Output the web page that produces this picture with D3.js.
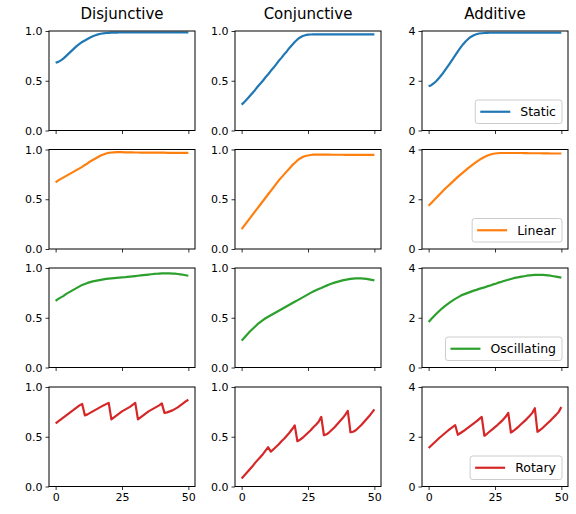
<!DOCTYPE html>
<html>
<head>
<meta charset="utf-8">
<script src="https://cdn.jsdelivr.net/npm/d3@7"></script>
<style>
  body { margin: 0; background: #fff; }
  text { font-family: "DejaVu Sans", sans-serif; fill: #000; }
</style>
</head>
<body>
<script>
// step index shared by every series
var steps = [0,1,2,3,4,5,6,7,8,9,10,11,12,13,14,15,16,17,18,19,20,21,22,23,24,25,26,27,28,29,30,31,32,33,34,35,36,37,38,39,40,41,42,43,44,45,46,47,48,49,50];

var columns = ["Disjunctive", "Conjunctive", "Additive"];
var modes = ["Static", "Linear", "Oscillating", "Rotary"];
var colors = ["#1f77b4", "#ff7f0e", "#2ca02c", "#d62728"];
var yMax = [1, 1, 4];
var yTicks = [[0, 0.5, 1], [0, 0.5, 1], [0, 2, 4]];
var xTicks = [0, 25, 50];

// Static
var staticDisj = [0.68,0.69,0.705,0.725,0.75,0.775,0.80,0.825,0.85,0.87,0.89,0.905,0.92,0.935,0.948,0.958,0.966,0.972,0.977,0.980,0.982,0.983,0.984,0.984,0.985,0.985,0.985,0.985,0.985,0.985,0.985,0.985,0.985,0.985,0.985,0.985,0.985,0.985,0.985,0.985,0.985,0.985,0.985,0.985,0.985,0.985,0.985,0.985,0.985,0.985,0.985];
var staticConj = [0.26,0.285,0.315,0.345,0.375,0.405,0.44,0.47,0.50,0.535,0.565,0.60,0.63,0.665,0.70,0.73,0.765,0.795,0.83,0.86,0.89,0.915,0.935,0.95,0.958,0.963,0.965,0.966,0.966,0.966,0.966,0.966,0.966,0.966,0.966,0.966,0.966,0.966,0.966,0.966,0.966,0.966,0.966,0.966,0.966,0.966,0.966,0.966,0.966,0.966,0.966];
var staticAdd = [1.78,1.82,1.90,2.0,2.12,2.25,2.4,2.55,2.7,2.86,3.02,3.18,3.33,3.47,3.59,3.69,3.77,3.83,3.87,3.90,3.91,3.92,3.925,3.93,3.93,3.93,3.93,3.93,3.93,3.93,3.93,3.93,3.93,3.93,3.93,3.93,3.93,3.93,3.93,3.93,3.93,3.93,3.93,3.93,3.93,3.93,3.93,3.93,3.93,3.93,3.93];

// Linear
var linearDisj = [0.67,0.69,0.705,0.72,0.735,0.75,0.765,0.78,0.795,0.81,0.825,0.845,0.86,0.88,0.895,0.91,0.925,0.94,0.95,0.96,0.967,0.97,0.972,0.973,0.973,0.973,0.972,0.972,0.972,0.971,0.970,0.970,0.969,0.969,0.968,0.968,0.968,0.968,0.968,0.968,0.968,0.968,0.967,0.967,0.967,0.967,0.966,0.966,0.966,0.966,0.966];
var linearConj = [0.20,0.235,0.27,0.305,0.34,0.375,0.41,0.445,0.48,0.515,0.55,0.585,0.62,0.655,0.69,0.72,0.75,0.78,0.81,0.84,0.865,0.89,0.91,0.925,0.935,0.94,0.945,0.948,0.948,0.948,0.948,0.948,0.948,0.948,0.947,0.947,0.947,0.947,0.947,0.946,0.946,0.946,0.946,0.946,0.945,0.945,0.945,0.945,0.945,0.945,0.945];
var linearAdd = [1.74,1.85,1.96,2.07,2.18,2.29,2.4,2.5,2.6,2.7,2.8,2.9,2.99,3.08,3.17,3.26,3.34,3.42,3.5,3.57,3.64,3.7,3.75,3.79,3.82,3.84,3.85,3.86,3.86,3.86,3.86,3.86,3.86,3.86,3.86,3.86,3.855,3.855,3.85,3.85,3.85,3.85,3.85,3.845,3.845,3.845,3.84,3.84,3.84,3.84,3.84];

// Oscillating
var oscDisj = [0.67,0.69,0.705,0.72,0.74,0.755,0.77,0.785,0.80,0.815,0.83,0.84,0.85,0.858,0.865,0.87,0.875,0.88,0.885,0.89,0.893,0.896,0.899,0.901,0.903,0.905,0.907,0.91,0.913,0.916,0.919,0.922,0.925,0.928,0.931,0.934,0.937,0.94,0.942,0.944,0.945,0.946,0.946,0.945,0.944,0.943,0.94,0.936,0.932,0.927,0.922];
var oscConj = [0.27,0.30,0.33,0.36,0.385,0.41,0.435,0.455,0.475,0.495,0.51,0.525,0.54,0.555,0.57,0.585,0.60,0.615,0.63,0.645,0.66,0.675,0.69,0.705,0.72,0.735,0.75,0.763,0.776,0.789,0.80,0.812,0.823,0.834,0.844,0.853,0.861,0.868,0.875,0.881,0.886,0.89,0.893,0.895,0.896,0.895,0.893,0.89,0.886,0.881,0.876];
var oscAdd = [1.83,1.95,2.06,2.17,2.27,2.37,2.46,2.54,2.62,2.69,2.76,2.82,2.88,2.93,2.97,3.01,3.05,3.09,3.12,3.16,3.19,3.22,3.26,3.29,3.33,3.36,3.4,3.43,3.47,3.5,3.53,3.56,3.59,3.61,3.63,3.65,3.67,3.69,3.70,3.71,3.72,3.72,3.72,3.72,3.71,3.70,3.69,3.67,3.65,3.63,3.61];

// Rotary
var rotDisj = [0.635,0.655,0.675,0.695,0.715,0.735,0.755,0.775,0.795,0.815,0.83,0.715,0.725,0.74,0.755,0.77,0.785,0.80,0.815,0.828,0.84,0.675,0.695,0.715,0.735,0.755,0.77,0.785,0.80,0.82,0.84,0.675,0.695,0.715,0.735,0.755,0.77,0.785,0.80,0.815,0.835,0.74,0.745,0.755,0.765,0.78,0.795,0.815,0.835,0.855,0.872];
var rotConj = [0.08,0.11,0.14,0.17,0.20,0.235,0.265,0.295,0.325,0.36,0.395,0.35,0.375,0.40,0.425,0.455,0.48,0.51,0.54,0.575,0.615,0.455,0.47,0.49,0.515,0.54,0.565,0.595,0.62,0.65,0.70,0.515,0.525,0.545,0.57,0.595,0.625,0.655,0.685,0.72,0.76,0.545,0.55,0.565,0.59,0.615,0.645,0.675,0.705,0.74,0.775];
var rotAdd = [1.55,1.65,1.75,1.85,1.95,2.04,2.13,2.22,2.31,2.39,2.47,2.08,2.15,2.22,2.3,2.38,2.46,2.54,2.62,2.71,2.8,2.04,2.12,2.21,2.3,2.39,2.48,2.58,2.68,2.8,2.96,2.17,2.24,2.33,2.42,2.52,2.62,2.72,2.83,2.95,3.15,2.2,2.27,2.36,2.46,2.56,2.66,2.77,2.88,3.0,3.2];

var grid = [
  [staticDisj, staticConj, staticAdd],
  [linearDisj, linearConj, linearAdd],
  [oscDisj, oscConj, oscAdd],
  [rotDisj, rotConj, rotAdd]
];

var width = 576, height = 514;
var colLeft = [49, 235, 422], plotW = 146;
var rowTop = [31, 149.5, 268, 387], plotH = 99.5;

var svg = d3.select("body").append("svg")
    .attr("width", width)
    .attr("height", height);

// column titles
columns.forEach(function(c, j) {
  svg.append("text")
      .attr("x", colLeft[j] + plotW / 2)
      .attr("y", 19)
      .attr("text-anchor", "middle")
      .style("font-size", "15px")
      .text(c);
});

var x = d3.scaleLinear().domain([-2.5, 52.5]).range([0, plotW]);

grid.forEach(function(row, i) {
  row.forEach(function(vals, j) {
    var g = svg.append("g")
        .attr("transform", "translate(" + colLeft[j] + "," + rowTop[i] + ")");

    var y = d3.scaleLinear().domain([0, yMax[j]]).range([plotH, 0]);

    var line = d3.line()
        .x(function(d, k) { return x(steps[k]); })
        .y(function(d) { return y(d); });

    g.append("path")
        .datum(vals)
        .attr("d", line)
        .attr("fill", "none")
        .attr("stroke", colors[i])
        .attr("stroke-width", 2.2)
        .attr("stroke-linejoin", "round");

    // y axis
    var yAxis = g.append("g")
        .call(d3.axisLeft(y).tickValues(yTicks[j]).tickSize(3.5).tickPadding(3)
          .tickFormat(j < 2 ? d3.format(".1f") : d3.format("d")));
    yAxis.select(".domain").remove();

    // x axis, labels only on the last row
    var xAxis = g.append("g")
        .attr("transform", "translate(0," + plotH + ")")
        .call(d3.axisBottom(x).tickValues(xTicks).tickSize(3.5).tickPadding(3.5)
          .tickFormat(i == grid.length - 1 ? d3.format("d") : ""));
    xAxis.select(".domain").remove();

    svg.selectAll(".tick text").style("font-size", "11px").attr("fill", "#000");
    svg.selectAll(".tick line").attr("stroke", "#000").attr("stroke-width", 0.8);

    // frame
    g.append("rect")
        .attr("width", plotW)
        .attr("height", plotH)
        .attr("fill", "none")
        .attr("stroke", "#000")
        .attr("stroke-width", 1);

    // legend in the last column
    if (j == 2) {
      var leg = g.append("g");
      var txt = leg.append("text")
          .attr("x", 45)
          .attr("y", 0)
          .style("font-size", "12.5px")
          .text(modes[i]);
      var tw = txt.node().getComputedTextLength();
      var boxW = 45 + tw + 6, boxH = 23.5;
      var bx = plotW - 6 - boxW, by = plotH - 7 - boxH;
      leg.attr("transform", "translate(" + bx + "," + by + ")");
      leg.insert("rect", "text")
          .attr("width", boxW)
          .attr("height", boxH)
          .attr("rx", 2.5)
          .attr("fill", "#fff")
          .attr("fill-opacity", 0.8)
          .attr("stroke", "#ccc")
          .attr("stroke-width", 1);
      leg.append("line")
          .attr("x1", 5).attr("x2", 35)
          .attr("y1", boxH / 2).attr("y2", boxH / 2)
          .attr("stroke", colors[i])
          .attr("stroke-width", 2.2);
      txt.attr("y", boxH / 2 + 4.5);
    }
  });
});
</script>
</body>
</html>
